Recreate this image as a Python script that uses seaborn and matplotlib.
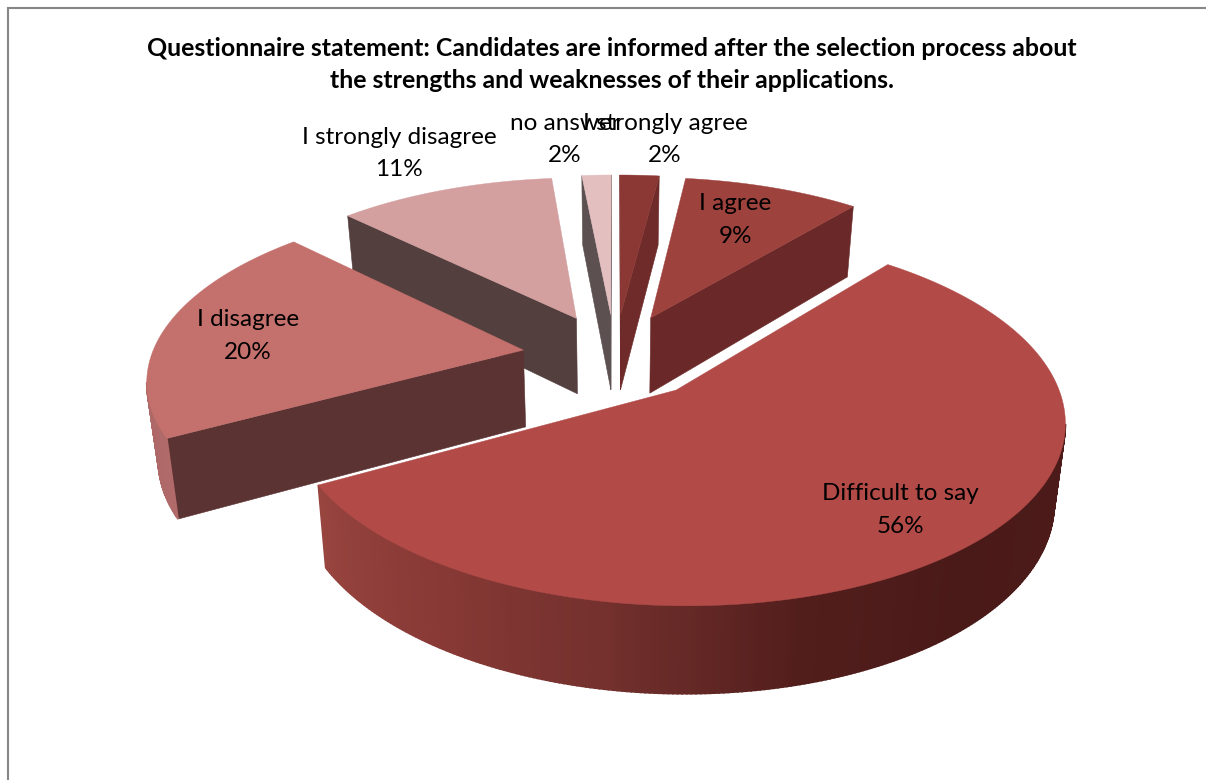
import numpy as np
import matplotlib
matplotlib.use("Agg")
import matplotlib.pyplot as plt
import seaborn as sns

# ---- data ----
categories = ["I strongly agree", "I agree", "Difficult to say", "I disagree",
              "I strongly disagree", "no answer"]
values = [2, 9, 56, 20.4, 11.1, 1.5]
title_lines = ["Questionnaire statement: Candidates are informed after the selection process about",
               "the strengths and weaknesses of their applications."]

# ---- style ----
top_colors = ["#8b3733", "#9e423e", "#b24b48", "#c4706c", "#d49f9f", "#e3bfc0"]
wall_colors = ["#6f2b29", "#6a2928", "#6a2928", "#5c3333", "#533f3e", "#5c5050"]
rim_palettes = [["#6f2b29"] * 2, ["#6a2928"] * 2,
                ["#4e1d1b", "#4e1d1b", "#4e1d1b", "#4c1b19", "#4a1a18", "#521e1c",
                 "#74312e", "#893a36", "#98443f"],
                ["#b06a69", "#a86362"], ["#533f3e"] * 2, ["#5c5050"] * 2]
label_pos = [(665, 123), (735, 204), (900, 494), (248, 320), (399, 137), (565, 123)]
draw_order = [5, 0, 4, 1, 3, 2]
label_order = [5, 0, 4, 1, 3, 2]

CX, CY = 615, 356      # screen position of the pie axis
RX, RY = 372, 172      # projected radii
PERSP = 0.15           # foreshortening of the far side
EXPLODE = 0.25
FONT = "Lato"

sns.set_theme(style="white")
plt.rcParams["font.family"] = [FONT, "DejaVu Sans"]

fig = plt.figure(figsize=(12.06, 7.8), dpi=100)
ax = fig.add_axes([0, 0, 1, 1])
ax.set_xlim(0, 1206)
ax.set_ylim(780, 0)
ax.axis("off")


def project(wx, wy):
    s = 1.0 / (1.0 + PERSP * wy)
    return CX + RX * wx * s, CY - RY * wy * s, s


def lower(x, y, s):
    return CX + (x - CX) * 0.975, y + 77 + 50 * (s - 1)


def wall(p, q, color, lw=0.4):
    x0, y0, s0 = p
    x1, y1, s1 = q
    bx0, by0 = lower(x0, y0, s0)
    bx1, by1 = lower(x1, y1, s1)
    ax.fill([x0, x1, bx1, bx0], [y0, y1, by1, by0], facecolor=color,
            edgecolor=color, linewidth=lw)


fractions = np.array(values, dtype=float) / sum(values)
edges = np.concatenate([[0.0], np.cumsum(fractions)]) * 2 * np.pi

for i in draw_order:
    t0, t1 = edges[i], edges[i + 1]
    mid = (t0 + t1) / 2
    ox, oy = EXPLODE * np.sin(mid), EXPLODE * np.cos(mid)
    ts = np.linspace(t0, t1, max(int(values[i] * 6), 12))
    apex = project(ox, oy)
    rim = [project(ox + np.sin(t), oy + np.cos(t)) for t in ts]

    # cut faces: only those turned towards the viewer
    if rim[0][0] < apex[0]:
        wall(apex, rim[0], wall_colors[i])
    if apex[0] < rim[-1][0]:
        wall(rim[-1], apex, wall_colors[i])

    # outer wall, shaded along the arc
    shades = sns.blend_palette(rim_palettes[i], n_colors=len(ts))
    for k in range(len(rim) - 1):
        if rim[k + 1][0] < rim[k][0]:
            wall(rim[k], rim[k + 1], shades[k], lw=1.2)

    xs = [apex[0]] + [p[0] for p in rim]
    ys = [apex[1]] + [p[1] for p in rim]
    ax.fill(xs, ys, facecolor=top_colors[i], edgecolor=top_colors[i], linewidth=0.3)

for i in label_order:
    x, y = label_pos[i]
    ax.text(x, y, categories[i], ha="center", va="center", fontsize=17.5,
            color="black", zorder=10)
    ax.text(x, y + 32.5, f"{values[i]:.0f}%", ha="center", va="center", fontsize=17.5,
            color="black", zorder=10)

for line, y in zip(title_lines, (48, 80)):
    ax.text(612, y, line, ha="center", va="center", fontsize=17.9,
            fontweight="bold", color="black", zorder=10)

# chart frame, running off the right and bottom of the picture
ax.plot([8, 8, 1206], [780, 8, 8], color="#868686", linewidth=1.5, solid_joinstyle="miter")

fig.savefig("out.png", dpi=100, facecolor="white")
